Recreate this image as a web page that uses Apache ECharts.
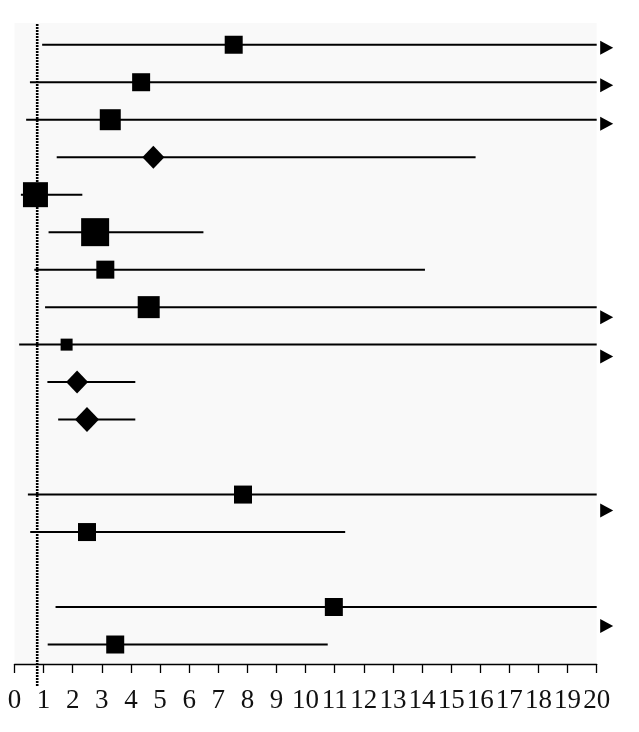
<!DOCTYPE html>
<html>
<head>
<meta charset="utf-8">
<script src="https://cdn.jsdelivr.net/npm/echarts@6/dist/echarts.min.js"></script>
<style>
    html, body { margin: 0; padding: 0; background: #fff; }
    #chart { width: 639px; height: 732px; }
</style>
</head>
<body>
<div id="chart"></div>
<script>
    // row slot of each study (11 and 14 are empty spacer rows)
    const rows = [0, 1, 2, 3, 4, 5, 6, 7, 8, 9, 10, 12, 13, 15, 16];
    const estimates = [7.53, 4.35, 3.29, 4.77, 0.72, 2.77, 3.12, 4.61, 1.79, 2.15, 2.49, 7.85, 2.49, 10.97, 3.46];
    const lower = [0.95, 0.53, 0.40, 1.45, 0.22, 1.17, 0.68, 1.05, 0.16, 1.13, 1.50, 0.46, 0.54, 1.41, 1.14];
    // null = upper limit runs past the axis (drawn with an arrow)
    const upper = [null, null, null, 15.84, 2.33, 6.49, 14.1, null, null, 4.15, 4.15, null, 11.36, null, 10.76];
    const shapes = ['rect', 'rect', 'rect', 'diamond', 'rect', 'rect', 'rect', 'rect', 'rect', 'diamond', 'diamond', 'rect', 'rect', 'rect', 'rect'];
    const weights = [18, 18, 21, 22, 25, 28, 18, 22, 12, 22, 24, 18, 18, 18, 18];
    const xTickLabels = ['0', '1', '2', '3', '4', '5', '6', '7', '8', '9', '10',
        '11', '12', '13', '14', '15', '16', '17', '18', '19', '20'];
    const refValue = 0.78;
    // arrows sit a little lower than their lines in the original
    const arrowDrop = [3, 3, 4, 10, 12, 16, 19];

    const xMax = 20;

    let ciData = [];
    let markData = [];
    let arrowData = [];
    rows.forEach(function (r, i) {
        let hi = upper[i] === null ? xMax : upper[i];
        ciData.push([lower[i], hi, r]);
        markData.push({
            value: [estimates[i], r],
            symbol: shapes[i],
            symbolSize: shapes[i] === 'diamond' ? [weights[i], weights[i] + 1] : weights[i]
        });
        if (upper[i] === null) {
            arrowData.push({
                value: [xMax, r],
                symbolOffset: [10, arrowDrop[arrowData.length]]
            });
        }
    });

    let chart = echarts.init(document.getElementById('chart'));
    let option = {
        animation: false,
        grid: {
            left: 14.5,
            right: 42.3,
            top: 23,
            bottom: 68,
            show: true,
            backgroundColor: '#f9f9f9',
            borderWidth: 0
        },
        xAxis: {
            type: 'value',
            min: 0,
            max: xMax,
            interval: 1,
            splitLine: { show: false },
            axisLine: { show: true, onZero: false, lineStyle: { color: '#000', width: 1.3 } },
            axisTick: { show: true, length: 9, lineStyle: { color: '#000', width: 1.3 } },
            axisLabel: {
                margin: 23,
                color: '#111',
                fontFamily: '"Liberation Serif", serif',
                fontSize: 27,
                formatter: function (v) { return xTickLabels[Math.round(v)]; }
            }
        },
        yAxis: {
            type: 'value',
            inverse: true,
            min: -0.58,
            max: 16.52,
            show: false,
            splitLine: { show: false }
        },
        series: [
            {
                type: 'custom',
                clip: false,
                data: ciData,
                renderItem: function (params, api) {
                    let a = api.coord([api.value(0), api.value(2)]);
                    let b = api.coord([api.value(1), api.value(2)]);
                    return {
                        type: 'line',
                        shape: { x1: a[0], y1: a[1], x2: b[0], y2: b[1] },
                        style: { stroke: '#000', lineWidth: 2 }
                    };
                },
                z: 2
            },
            {
                type: 'scatter',
                clip: false,
                data: markData,
                itemStyle: { color: '#000', opacity: 1 },
                z: 3
            },
            {
                type: 'scatter',
                clip: false,
                symbol: 'path://M0,0L1,0.5L0,1Z',
                symbolSize: [13, 14],
                data: arrowData,
                itemStyle: { color: '#000', opacity: 1 },
                z: 3
            },
            {
                // dotted reference line, runs a bit below the axis
                type: 'custom',
                clip: false,
                data: [[refValue]],
                renderItem: function (params, api) {
                    let cs = params.coordSys;
                    let x = api.coord([api.value(0), 0])[0];
                    return {
                        type: 'line',
                        shape: { x1: x, y1: cs.y + 1, x2: x, y2: cs.y + cs.height + 23 },
                        style: { stroke: '#000', lineWidth: 2.6, lineDash: [2, 1] }
                    };
                },
                z: 4
            }
        ]
    };
    chart.setOption(option);
    window.addEventListener('resize', function () {
        chart.resize();
    });
</script>
</body>
</html>
